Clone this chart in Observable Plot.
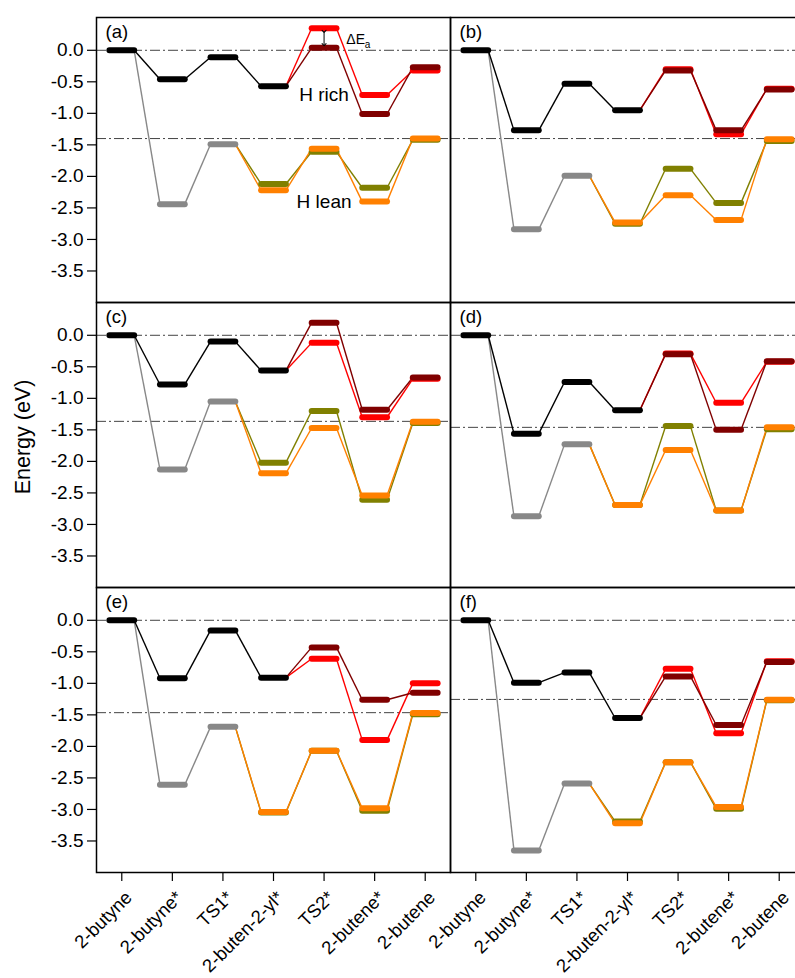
<!DOCTYPE html>
<html>
<head>
<meta charset="utf-8">
<script src="https://cdn.jsdelivr.net/npm/d3@7"></script>
<script src="https://cdn.jsdelivr.net/npm/@observablehq/plot@0.6"></script>
<style>
  html, body { margin: 0; padding: 0; background: #fff; overflow: hidden; }
  #wrap { position: relative; width: 810px; height: 978px; font-family: "Liberation Sans", Arial, sans-serif; }
  #ylab { position: absolute; left: 23px; top: 437px; transform: translate(-50%, -50%) rotate(-90deg);
          font-size: 21.5px; white-space: nowrap; color: #000; }
</style>
</head>
<body>
<div id="wrap"><div id="ylab">Energy (eV)</div></div>
<script>
// ---- data ----
const categories = ["2-butyne", "2-butyne*", "TS1*", "2-buten-2-yl*", "TS2*", "2-butene*", "2-butene"];
const panels = ["(a)", "(b)", "(c)", "(d)", "(e)", "(f)"];
const start = [0, 0, 0, 0, 0, 0];
// H rich, common path (black): 2-butyne*, TS1*, 2-buten-2-yl*
const richBlack = [
  [-0.46, -0.11, -0.57],
  [-1.27, -0.53, -0.95],
  [-0.78, -0.10, -0.56],
  [-1.56, -0.74, -1.19],
  [-0.92, -0.16, -0.91],
  [-0.99, -0.83, -1.55]
];
// H rich branches: TS2*, 2-butene*, 2-butene
const richDark = [
  [0.04, -1.01, -0.27],
  [-0.32, -1.27, -0.62],
  [0.20, -1.18, -0.67],
  [-0.30, -1.50, -0.41],
  [-0.43, -1.26, -1.15],
  [-0.89, -1.66, -0.66]
];
const richRed = [
  [0.35, -0.71, -0.32],
  [-0.30, -1.33, -0.61],
  [-0.12, -1.30, -0.69],
  [-0.29, -1.07, -0.42],
  [-0.61, -1.90, -1.00],
  [-0.77, -1.79, -0.65]
];
// H lean, common path (gray): 2-butyne*, TS1*
const leanGray = [
  [-2.44, -1.49],
  [-2.84, -1.99],
  [-2.13, -1.05],
  [-2.87, -1.73],
  [-2.61, -1.69],
  [-3.65, -2.59]
];
// H lean branches: 2-buten-2-yl*, TS2*, 2-butene*, 2-butene
const leanOlive = [
  [-2.12, -1.61, -2.18, -1.42],
  [-2.75, -1.88, -2.42, -1.44],
  [-2.02, -1.20, -2.61, -1.39],
  [-2.69, -1.44, -2.78, -1.49],
  [-3.05, -2.07, -3.02, -1.49],
  [-3.19, -2.25, -2.99, -1.27]
];
const leanOrange = [
  [-2.22, -1.56, -2.40, -1.40],
  [-2.73, -2.30, -2.69, -1.41],
  [-2.19, -1.47, -2.54, -1.37],
  [-2.69, -1.82, -2.78, -1.46],
  [-3.04, -2.07, -2.98, -1.47],
  [-3.22, -2.25, -2.96, -1.26]
];
// dash-dot reference levels (gas-phase 2-butene)
const refLevel = [-1.40, -1.40, -1.365, -1.46, -1.465, -1.255];
const yTicks = [0, -0.5, -1.0, -1.5, -2.0, -2.5, -3.0, -3.5];

// ---- build tidy tables ----
const HW = 0.245; // half width of a level bar, in category units
const levels = [], links = [], refs = [], labels = [];
function addPath(p, series, pts, firstLevel) {
  const fx = p % 2, fy = Math.floor(p / 2);
  pts.forEach(([i, v], k) => {
    if (k >= firstLevel) levels.push({series, fx, fy, i, v});
    if (k > 0) {
      const [i0, v0] = pts[k - 1];
      links.push({series, fx, fy, x1: i0 + HW, y1: v0, x2: i - HW, y2: v});
    }
  });
}
panels.forEach((name, p) => {
  const fx = p % 2, fy = Math.floor(p / 2);
  const rb = richBlack[p], lg = leanGray[p];
  addPath(p, "olive", [[2, lg[1]], ...leanOlive[p].map((v, k) => [3 + k, v])], 1);
  addPath(p, "orange", [[2, lg[1]], ...leanOrange[p].map((v, k) => [3 + k, v])], 1);
  addPath(p, "gray", [[0, start[p]], [1, lg[0]], [2, lg[1]]], 1);
  addPath(p, "red", [[3, rb[2]], ...richRed[p].map((v, k) => [4 + k, v])], 1);
  addPath(p, "darkred", [[3, rb[2]], ...richDark[p].map((v, k) => [4 + k, v])], 1);
  addPath(p, "black", [[0, start[p]], [1, rb[0]], [2, rb[1]], [3, rb[2]]], 0);
  refs.push({fx, fy, y: 0}, {fx, fy, y: refLevel[p]});
  labels.push({fx, fy, text: name});
});

const colors = {olive: "#808000", orange: "#ff8000", gray: "#888888", red: "#ff0000", darkred: "#800000", black: "#000000"};
const order = ["olive", "orange", "gray", "red", "darkred", "black"];
const xTicks = d3.range(categories.length);

const marks = [
  Plot.ruleY(refs, {y: "y", fx: "fx", fy: "fy", stroke: "#444", strokeWidth: 1, strokeDasharray: "10,3,2,3"}),
  ...order.map(s => Plot.link(links.filter(d => d.series === s),
      {x1: "x1", y1: "y1", x2: "x2", y2: "y2", fx: "fx", fy: "fy", stroke: colors[s], strokeWidth: 1.4})),
  ...order.map(s => Plot.link(levels.filter(d => d.series === s),
      {x1: d => d.i - HW, x2: d => d.i + HW, y1: "v", y2: "v", fx: "fx", fy: "fy",
       stroke: colors[s], strokeWidth: 6, strokeLinecap: "round"})),
  Plot.frame({stroke: "#000", strokeWidth: 1.5}),
  Plot.text(labels, {fx: "fx", fy: "fy", text: "text", frameAnchor: "top-left", dx: 9, dy: 7,
      lineAnchor: "top", fontSize: 18.5, fill: "#000"}),
  // annotations in panel (a)
  Plot.text([{fx: 0, fy: 0, x: 4, y: -0.70, t: "H rich"}, {fx: 0, fy: 0, x: 4, y: -2.40, t: "H lean"}],
      {fx: "fx", fy: "fy", x: "x", y: "y", text: "t", fontSize: 19, fill: "#000"}),
  Plot.text([{fx: 0, fy: 0, x: 4.44, y: 0.17}], {fx: "fx", fy: "fy", x: "x", y: "y", text: () => "\u0394E",
      textAnchor: "start", fontSize: 14, fill: "#000"}),
  Plot.text([{fx: 0, fy: 0, x: 4.44, y: 0.17}], {fx: "fx", fy: "fy", x: "x", y: "y", text: () => "a",
      textAnchor: "start", fontSize: 10, dx: 18.5, dy: 5, fill: "#000"}),
  Plot.link([{fx: 0, fy: 0, x: 4, y1: 0.30, y2: 0.09}], {fx: "fx", fy: "fy", x1: "x", x2: "x", y1: "y1", y2: "y2",
      stroke: "#000", strokeWidth: 1, markerStart: "arrow", markerEnd: "arrow"}),
  Plot.axisY({ticks: yTicks, tickFormat: d => d.toFixed(1), tickSize: 9, tickPadding: 4,
      fontSize: 19, label: null, stroke: "#000", strokeWidth: 1.2}),
  // x ticks (marks only)
  Plot.axisX({ticks: xTicks, tickFormat: () => "", tickSize: 9, label: null, stroke: "#000", strokeWidth: 1.2}),
  // x tick labels, rotated
  Plot.axisX({ticks: xTicks, tickFormat: i => categories[i], tickRotate: -45, tickSize: 0, tickPadding: 14,
      fontSize: 18.5, label: null, dx: 7, dy: 8})
];

const chart = Plot.plot({
  width: 810, height: 978,
  marginTop: 16, marginBottom: 105, marginLeft: 95, marginRight: 6,
  style: {fontFamily: '"Liberation Sans", Arial, sans-serif', fontSize: "18px", color: "#000", background: "#fff"},
  fx: {domain: [0, 1], padding: 0, axis: null},
  fy: {domain: [0, 1, 2], padding: 0, axis: null},
  x: {domain: [-0.5, 6.5]},
  y: {domain: [-4.0, 0.52]},
  marks
});
document.getElementById("wrap").appendChild(chart);
</script>
</body>
</html>
